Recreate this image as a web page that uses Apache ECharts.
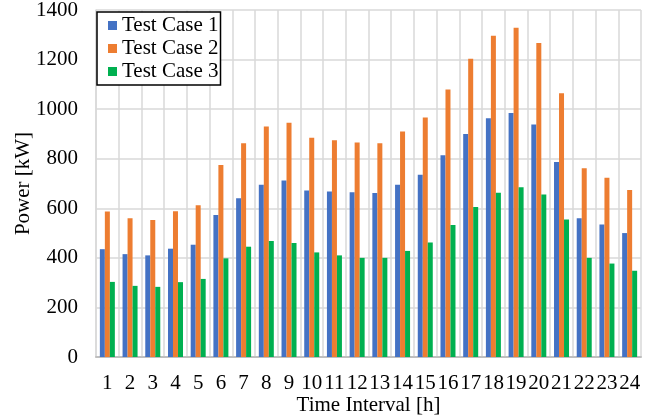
<!DOCTYPE html>
<html>
<head>
<meta charset="utf-8">
<script src="https://cdn.jsdelivr.net/npm/echarts@6/dist/echarts.min.js"></script>
<style>
  html, body { margin: 0; padding: 0; background: #fff; }
  #chart { width: 657px; height: 419px; }
</style>
</head>
<body>
<div id="chart"></div>
<script>
const hours = ["1","2","3","4","5","6","7","8","9","10","11","12","13","14","15","16","17","18","19","20","21","22","23","24"];
const testCase1 = [435, 415, 410, 437, 453, 573, 640, 695, 712, 672, 668, 665, 662, 695, 735, 814, 900, 963, 984, 938, 787, 560, 535, 500];
const testCase2 = [587, 560, 553, 588, 612, 775, 862, 930, 945, 885, 875, 865, 862, 910, 966, 1079, 1203, 1296, 1328, 1267, 1064, 762, 723, 674];
const testCase3 = [303, 287, 283, 302, 315, 398, 445, 468, 460, 422, 410, 400, 400, 428, 462, 533, 605, 663, 685, 656, 555, 400, 377, 348];

const font = "'Liberation Serif', 'Times New Roman', serif";
const chart = echarts.init(document.getElementById("chart"));

const makeSeries = (name, data, color) => ({
  name,
  type: "bar",
  data,
  barWidth: 5,
  barGap: "0%",
  itemStyle: { color },
});

chart.setOption({
  animation: false,
  textStyle: { fontFamily: font },
  grid: { left: 96, right: 16, top: 10, bottom: 62, outerBoundsMode: "none", containLabel: false },
  legend: {
    orient: "vertical",
    left: 97,
    top: 12,
    padding: [3, 2, 3, 11],
    itemWidth: 9,
    itemHeight: 9,
    itemGap: 2,
    itemTextGap: 7,
    borderColor: "#000",
    borderWidth: 1.5,
    backgroundColor: "#fff",
    textStyle: { fontFamily: font, fontSize: 21, lineHeight: 21, color: "#000" },
    icon: "rect",
  },
  xAxis: {
    type: "category",
    data: hours,
    name: "Time Interval [h]",
    nameLocation: "middle",
    nameGap: 38,
    nameMoveOverlap: false,
    nameTextStyle: { fontFamily: font, fontSize: 21, color: "#000" },
    axisLine: { lineStyle: { color: "#bfbfbf", width: 2 } },
    axisTick: { show: false },
    axisLabel: { interval: 0, fontFamily: font, fontSize: 21, color: "#000", margin: 16 },
    splitLine: { show: true, lineStyle: { color: "#d9d9d9", width: 1.5 } },
  },
  yAxis: {
    type: "value",
    min: 0,
    max: 1400,
    interval: 200,
    name: "Power [kW]",
    nameLocation: "middle",
    nameGap: 62,
    nameMoveOverlap: false,
    nameTextStyle: { fontFamily: font, fontSize: 21, color: "#000" },
    axisLine: { show: true, lineStyle: { color: "#d9d9d9", width: 1.5 } },
    axisTick: { show: false },
    axisLabel: { fontFamily: font, fontSize: 21, color: "#000", margin: 18, formatter: (v) => String(v) },
    splitLine: { lineStyle: { color: "#d9d9d9", width: 1.5 } },
  },
  series: [
    makeSeries("Test Case 1", testCase1, "#4472C4"),
    makeSeries("Test Case 2", testCase2, "#ED7D31"),
    makeSeries("Test Case 3", testCase3, "#00B050"),
  ],
});
</script>
</body>
</html>
